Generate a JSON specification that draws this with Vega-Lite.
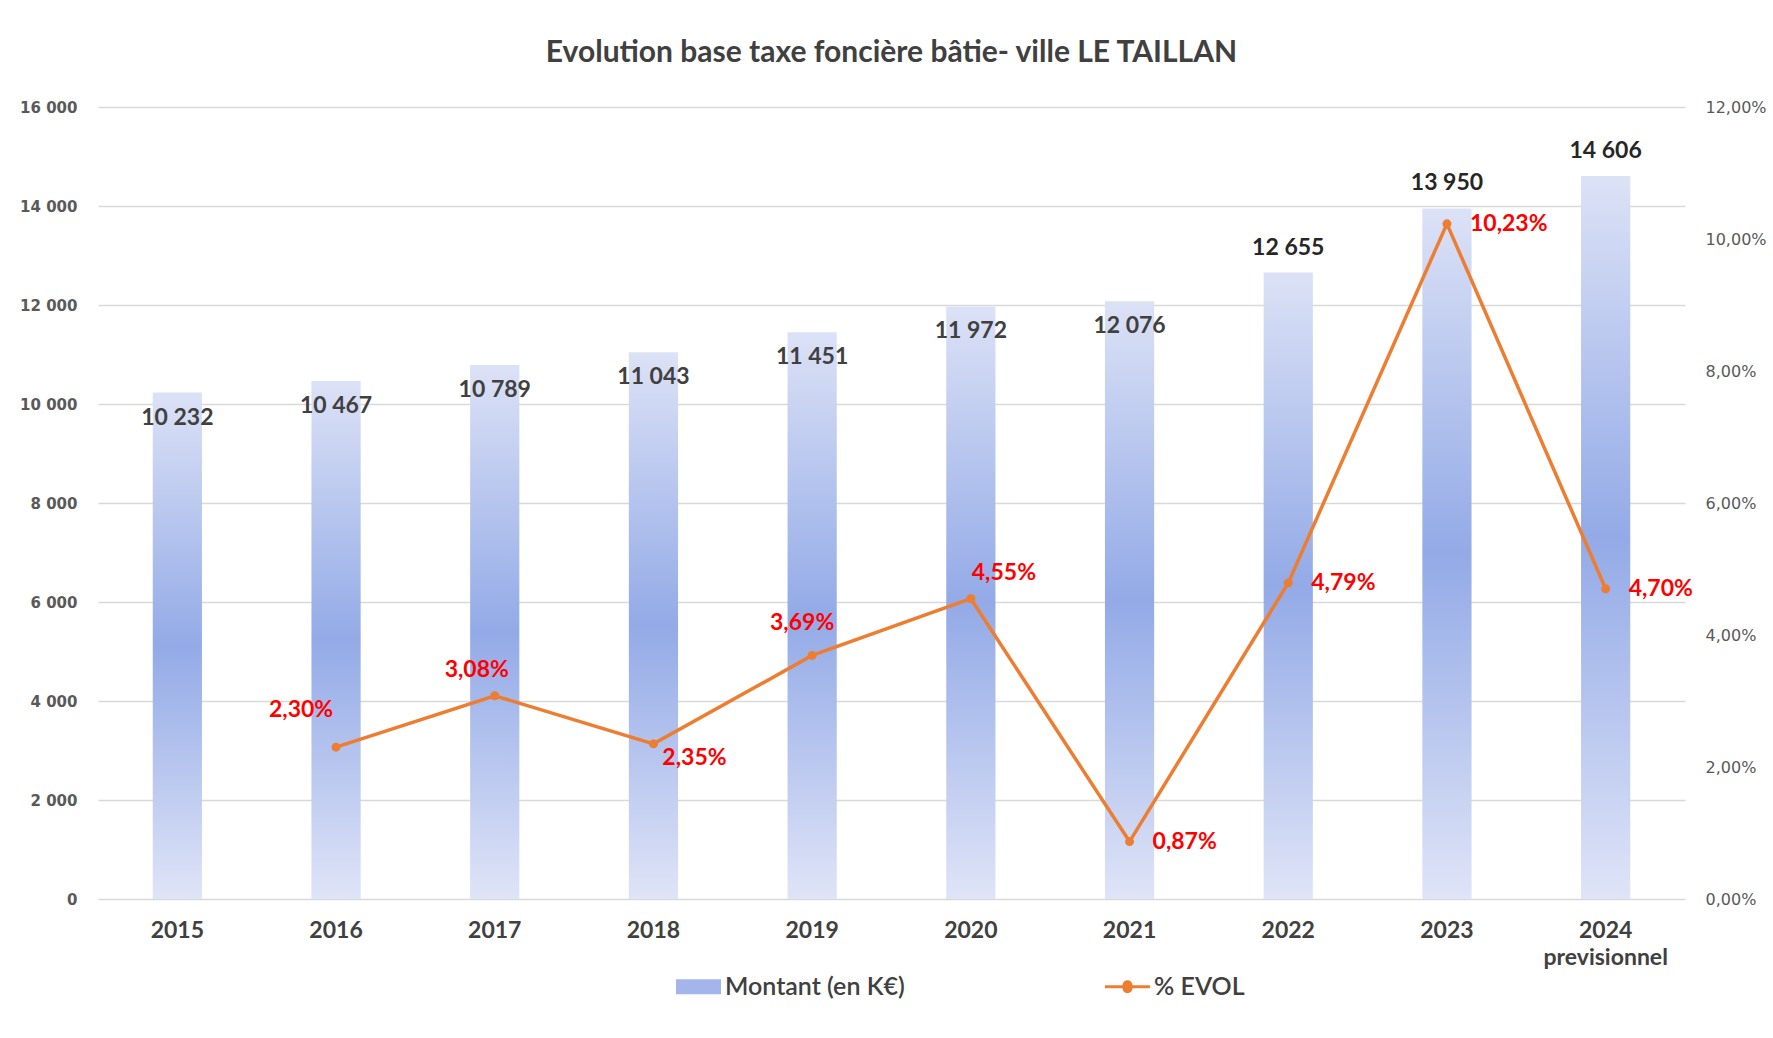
{
  "$schema": "https://vega.github.io/schema/vega-lite/v6.json",
  "width": 1587,
  "height": 792,
  "autosize": "none",
  "padding": {"left": 98, "top": 107, "right": 88, "bottom": 139},
  "background": "white",
  "config": {
    "locale": {"number": {"decimal": ",", "thousands": " ", "grouping": [3], "currency": ["", " €"]}},
    "view": {"stroke": null},
    "font": "Lato"
  },
  "title": {
    "text": "Evolution base taxe foncière bâtie- ville LE TAILLAN",
    "fontSize": 30, "font": "Lato", "fontWeight": "bold", "color": "#404040",
    "anchor": "middle", "offset": 31
  },
  "data": {"values": [
    {"annee": "2015", "montant": 10232, "evol": null},
    {"annee": "2016", "montant": 10467, "evol": 0.0230},
    {"annee": "2017", "montant": 10789, "evol": 0.0308},
    {"annee": "2018", "montant": 11043, "evol": 0.0235},
    {"annee": "2019", "montant": 11451, "evol": 0.0369},
    {"annee": "2020", "montant": 11972, "evol": 0.0455},
    {"annee": "2021", "montant": 12076, "evol": 0.0087},
    {"annee": "2022", "montant": 12655, "evol": 0.0479},
    {"annee": "2023", "montant": 13950, "evol": 0.1023},
    {"annee": "2024", "montant": 14606, "evol": 0.0470}
  ]},
  "encoding": {
    "x": {
      "field": "annee", "type": "nominal", "sort": null,
      "scale": {"paddingInner": 0.69, "paddingOuter": 0.345},
      "axis": {
        "title": null, "labelAngle": 0, "domain": false, "ticks": false,
        "labelFont": "Lato", "labelFontWeight": "bold", "labelFontSize": 23,
        "labelColor": "#404040", "labelPadding": 20, "labelLineHeight": 27,
        "labelExpr": "datum.value === '2024' ? ['2024', 'previsionnel'] : datum.label"
      }
    }
  },
  "layer": [
    {
      "encoding": {
        "y": {
          "field": "montant", "type": "quantitative",
          "scale": {"domain": [0, 16000]},
          "axis": {
            "title": null, "orient": "left",
            "values": [0, 2000, 4000, 6000, 8000, 10000, 12000, 14000, 16000],
            "format": ",d", "grid": true, "gridColor": "#d9d9d9", "gridWidth": 1.5,
            "domain": false, "ticks": false,
            "labelFont": "DejaVu Sans", "labelFontWeight": "bold", "labelFontSize": 15,
            "labelColor": "#595959", "labelPadding": 21
          }
        }
      },
      "layer": [
        {
          "mark": {
            "type": "bar",
            "color": {
              "gradient": "linear", "x1": 0, "y1": 0, "x2": 0, "y2": 1,
              "stops": [
                {"offset": 0, "color": "#dce2f6"},
                {"offset": 0.5, "color": "#93aae7"},
                {"offset": 1, "color": "#dfe4f7"}
              ]
            }
          }
        },
        {
          "transform": [{"filter": "datum.annee < '2022'"}],
          "mark": {"type": "text", "dy": 25, "fontSize": 23, "font": "Lato", "fontWeight": "bold", "color": "#404040"},
          "encoding": {"text": {"field": "montant", "type": "quantitative", "format": ",d"}}
        },
        {
          "transform": [{"filter": "datum.annee >= '2022'"}],
          "mark": {"type": "text", "dy": -25, "fontSize": 23, "font": "Lato", "fontWeight": "bold", "color": "#262626"},
          "encoding": {"text": {"field": "montant", "type": "quantitative", "format": ",d"}}
        }
      ]
    },
    {
      "encoding": {
        "y": {
          "field": "evol", "type": "quantitative",
          "scale": {"domain": [0, 0.12]},
          "axis": {
            "title": null, "orient": "right",
            "values": [0, 0.02, 0.04, 0.06, 0.08, 0.1, 0.12],
            "format": ".2%", "grid": false, "domain": false, "ticks": false,
            "labelFont": "DejaVu Sans", "labelFontSize": 16,
            "labelColor": "#595959", "labelPadding": 20
          }
        }
      },
      "layer": [
        {
          "transform": [{"filter": "isValid(datum.evol)"}],
          "mark": {"type": "line", "strokeWidth": 3.5, "point": {"filled": true, "size": 80}},
          "encoding": {
            "color": {
              "datum": "% EVOL",
              "scale": {"domain": ["Montant (en K€)", "% EVOL"], "range": ["#a3b5ea", "#ED7D31"]},
              "legend": {
                "title": null, "orient": "none", "legendX": 578, "legendY": 857, "direction": "horizontal",
                "columnPadding": 200, "labelLimit": 400,
                "labelFont": "Lato", "labelFontSize": 25, "labelFontWeight": 600, "labelColor": "#404040",
                "labelOffset": 4, "symbolSize": 2025,
                "encode": {
                  "symbols": {
                    "update": {
                      "shape": {"signal": "datum.value === '% EVOL' ? 'M-1,-0.07H-0.22A0.22,0.22 0 1,1 0.22,-0.07H1V0.07H0.22A0.22,0.22 0 1,1 -0.22,0.07H-1Z' : 'M-1,-0.33H1V0.33H-1Z'"},
                      "fill": {"signal": "datum.value === '% EVOL' ? '#ED7D31' : {gradient: 'linear', x1: 0, y1: 0, x2: 1, y2: 0, stops: [{offset: 0, color: '#dce2f6'}, {offset: 0.5, color: '#93aae7'}, {offset: 1, color: '#dce2f6'}]}"},
                      "strokeWidth": {"value": 0},
                      "opacity": {"value": 1}
                    }
                  }
                }
              }
            }
          }
        },
        {
          "transform": [{"filter": "datum.annee === '2016'"}],
          "mark": {"type": "text", "dx": -35, "dy": -37, "fontSize": 23, "font": "Lato", "fontWeight": "bold", "color": "#FF0000"},
          "encoding": {"text": {"field": "evol", "type": "quantitative", "format": ".2%"}}
        },
        {
          "transform": [{"filter": "datum.annee === '2017'"}],
          "mark": {"type": "text", "dx": -18, "dy": -26, "fontSize": 23, "font": "Lato", "fontWeight": "bold", "color": "#FF0000"},
          "encoding": {"text": {"field": "evol", "type": "quantitative", "format": ".2%"}}
        },
        {
          "transform": [{"filter": "datum.annee === '2019'"}],
          "mark": {"type": "text", "dx": -10, "dy": -32, "fontSize": 23, "font": "Lato", "fontWeight": "bold", "color": "#FF0000"},
          "encoding": {"text": {"field": "evol", "type": "quantitative", "format": ".2%"}}
        },
        {
          "transform": [{"filter": "datum.annee === '2018'"}],
          "mark": {"type": "text", "dx": 41, "dy": 14, "fontSize": 23, "font": "Lato", "fontWeight": "bold", "color": "#FF0000"},
          "encoding": {"text": {"field": "evol", "type": "quantitative", "format": ".2%"}}
        },
        {
          "transform": [{"filter": "datum.annee === '2020'"}],
          "mark": {"type": "text", "dx": 33, "dy": -26, "fontSize": 23, "font": "Lato", "fontWeight": "bold", "color": "#FF0000"},
          "encoding": {"text": {"field": "evol", "type": "quantitative", "format": ".2%"}}
        },
        {
          "transform": [{"filter": "datum.annee >= '2021'"}],
          "mark": {"type": "text", "align": "left", "dx": 23, "dy": 0, "fontSize": 23, "font": "Lato", "fontWeight": "bold", "color": "#FF0000"},
          "encoding": {"text": {"field": "evol", "type": "quantitative", "format": ".2%"}}
        }
      ]
    }
  ],
  "resolve": {"scale": {"y": "independent"}}
}
